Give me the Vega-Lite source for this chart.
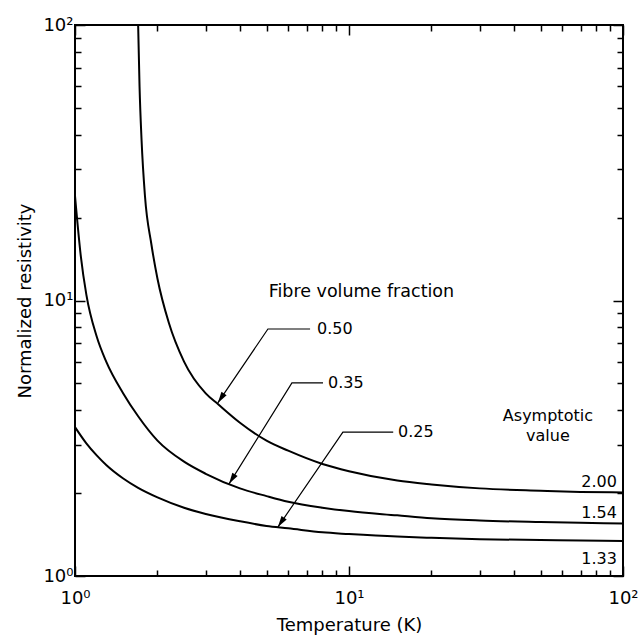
{
  "$schema": "https://vega.github.io/schema/vega-lite/v6.json",
  "width": 548,
  "height": 551,
  "autosize": {"type": "none"},
  "padding": {"left": 75, "top": 25, "right": 17, "bottom": 64},
  "background": "white",
  "config": {
    "view": {"stroke": "black", "strokeWidth": 2},
    "font": "DejaVu Sans",
    "axis": {
      "domain": false,
      "grid": false,
      "tickColor": "black",
      "tickWidth": 1.5,
      "labelFont": "DejaVu Sans",
      "labelFontSize": 18,
      "labelColor": "black",
      "labelFlush": false,
      "labelOverlap": false,
      "titleFont": "DejaVu Sans",
      "titleFontSize": 18,
      "titleFontWeight": "normal",
      "titleColor": "black"
    }
  },
  "datasets": {
    "curves": [
      {"f": "0.50", "T": 1.70, "rho": 100},
      {"f": "0.50", "T": 1.72, "rho": 60},
      {"f": "0.50", "T": 1.75, "rho": 38},
      {"f": "0.50", "T": 1.8, "rho": 24},
      {"f": "0.50", "T": 1.9, "rho": 16},
      {"f": "0.50", "T": 2.0, "rho": 12},
      {"f": "0.50", "T": 2.2, "rho": 8.3},
      {"f": "0.50", "T": 2.5, "rho": 6.0},
      {"f": "0.50", "T": 3.0, "rho": 4.6},
      {"f": "0.50", "T": 3.33, "rho": 4.2},
      {"f": "0.50", "T": 4, "rho": 3.6},
      {"f": "0.50", "T": 5, "rho": 3.1},
      {"f": "0.50", "T": 6, "rho": 2.85},
      {"f": "0.50", "T": 8, "rho": 2.55},
      {"f": "0.50", "T": 10, "rho": 2.4},
      {"f": "0.50", "T": 15, "rho": 2.22},
      {"f": "0.50", "T": 20, "rho": 2.15},
      {"f": "0.50", "T": 30, "rho": 2.08},
      {"f": "0.50", "T": 50, "rho": 2.04},
      {"f": "0.50", "T": 70, "rho": 2.02},
      {"f": "0.50", "T": 100, "rho": 2.01},
      {"f": "0.35", "T": 1, "rho": 24},
      {"f": "0.35", "T": 1.05, "rho": 14.5},
      {"f": "0.35", "T": 1.1, "rho": 10.5},
      {"f": "0.35", "T": 1.2, "rho": 7.4},
      {"f": "0.35", "T": 1.3, "rho": 6.0},
      {"f": "0.35", "T": 1.5, "rho": 4.6},
      {"f": "0.35", "T": 1.7, "rho": 3.8},
      {"f": "0.35", "T": 2, "rho": 3.1},
      {"f": "0.35", "T": 2.5, "rho": 2.6},
      {"f": "0.35", "T": 3, "rho": 2.35},
      {"f": "0.35", "T": 4, "rho": 2.08},
      {"f": "0.35", "T": 5, "rho": 1.95},
      {"f": "0.35", "T": 6, "rho": 1.86},
      {"f": "0.35", "T": 8, "rho": 1.77},
      {"f": "0.35", "T": 10, "rho": 1.72},
      {"f": "0.35", "T": 15, "rho": 1.66},
      {"f": "0.35", "T": 20, "rho": 1.62},
      {"f": "0.35", "T": 30, "rho": 1.59},
      {"f": "0.35", "T": 50, "rho": 1.57},
      {"f": "0.35", "T": 70, "rho": 1.56},
      {"f": "0.35", "T": 100, "rho": 1.55},
      {"f": "0.25", "T": 1, "rho": 3.47},
      {"f": "0.25", "T": 1.1, "rho": 3.03},
      {"f": "0.25", "T": 1.2, "rho": 2.74},
      {"f": "0.25", "T": 1.3, "rho": 2.53},
      {"f": "0.25", "T": 1.5, "rho": 2.26},
      {"f": "0.25", "T": 1.7, "rho": 2.09},
      {"f": "0.25", "T": 2, "rho": 1.93},
      {"f": "0.25", "T": 2.5, "rho": 1.77},
      {"f": "0.25", "T": 3, "rho": 1.68},
      {"f": "0.25", "T": 4, "rho": 1.58},
      {"f": "0.25", "T": 5, "rho": 1.52},
      {"f": "0.25", "T": 6, "rho": 1.49},
      {"f": "0.25", "T": 8, "rho": 1.44},
      {"f": "0.25", "T": 10, "rho": 1.42},
      {"f": "0.25", "T": 15, "rho": 1.39},
      {"f": "0.25", "T": 20, "rho": 1.376},
      {"f": "0.25", "T": 30, "rho": 1.36},
      {"f": "0.25", "T": 50, "rho": 1.35},
      {"f": "0.25", "T": 70, "rho": 1.345},
      {"f": "0.25", "T": 100, "rho": 1.34}
    ],
    "leaders": [
      {"id": "0.50", "o": 1, "T": 3.32, "rho": 4.25},
      {"id": "0.50", "o": 2, "T": 5.06, "rho": 7.88},
      {"id": "0.50", "o": 3, "T": 7.21, "rho": 7.88},
      {"id": "0.35", "o": 1, "T": 3.65, "rho": 2.16},
      {"id": "0.35", "o": 2, "T": 6.19, "rho": 5.02},
      {"id": "0.35", "o": 3, "T": 8.04, "rho": 5.02},
      {"id": "0.25", "o": 1, "T": 5.5, "rho": 1.505},
      {"id": "0.25", "o": 2, "T": 9.5, "rho": 3.33},
      {"id": "0.25", "o": 3, "T": 14.5, "rho": 3.33}
    ]
  },
  "layer": [
    {
      "data": {"name": "curves"},
      "mark": {"type": "line", "color": "black", "strokeWidth": 2, "interpolate": "monotone", "clip": true},
      "encoding": {
        "x": {
          "field": "T", "type": "quantitative",
          "scale": {"type": "log", "domain": [1, 100]},
          "axis": {
            "orient": "bottom",
            "values": [1,2,3,4,5,6,7,8,9,10,20,30,40,50,60,70,80,90,100],
            "labelExpr": "datum.value == 1 ? '10⁰' : datum.value == 10 ? '10¹' : datum.value == 100 ? '10²' : ''",
            "tickSize": {"condition": {"test": "datum.value == 1 || datum.value == 10 || datum.value == 100", "value": -10}, "value": -6},
            "labelPadding": 23,
            "title": "Temperature (K)",
            "titlePadding": 5
          }
        },
        "y": {
          "field": "rho", "type": "quantitative",
          "scale": {"type": "log", "domain": [1, 100]},
          "axis": {
            "orient": "left",
            "values": [1,2,3,4,5,6,7,8,9,10,20,30,40,50,60,70,80,90,100],
            "labelExpr": "datum.value == 1 ? '10⁰' : datum.value == 10 ? '10¹' : datum.value == 100 ? '10²' : ''",
            "tickSize": {"condition": {"test": "datum.value == 1 || datum.value == 10 || datum.value == 100", "value": -10}, "value": -6},
            "labelPadding": 12,
            "title": "Normalized resistivity",
            "titlePadding": 8
          }
        },
        "detail": {"field": "f"}
      }
    },
    {
      "data": {"name": "leaders"},
      "mark": {"type": "line", "color": "black", "strokeWidth": 1.2},
      "encoding": {
        "x": {
          "field": "T", "type": "quantitative",
          "scale": {"type": "log", "domain": [1, 100]},
          "axis": {
            "orient": "top",
            "values": [1,2,3,4,5,6,7,8,9,10,20,30,40,50,60,70,80,90,100],
            "labels": false,
            "tickSize": {"condition": {"test": "datum.value == 1 || datum.value == 10 || datum.value == 100", "value": -10}, "value": -6},
            "title": null
          }
        },
        "y": {
          "field": "rho", "type": "quantitative",
          "scale": {"type": "log", "domain": [1, 100]},
          "axis": {
            "orient": "right",
            "values": [1,2,3,4,5,6,7,8,9,10,20,30,40,50,60,70,80,90,100],
            "labels": false,
            "tickSize": {"condition": {"test": "datum.value == 1 || datum.value == 10 || datum.value == 100", "value": -10}, "value": -6},
            "title": null
          }
        },
        "detail": {"field": "id"},
        "order": {"field": "o"}
      }
    },
    {
      "data": {"values": [{"T": 3.32, "rho": 4.25}]},
      "mark": {"type": "point", "shape": "M0,0 L-0.28,-1 L0.28,-1 Z", "filled": true, "color": "black", "opacity": 1, "size": 500, "angle": 34},
      "encoding": {
        "x": {"field": "T", "type": "quantitative", "scale": {"type": "log", "domain": [1, 100]}, "axis": null},
        "y": {"field": "rho", "type": "quantitative", "scale": {"type": "log", "domain": [1, 100]}, "axis": null}
      }
    },
    {
      "data": {"values": [{"T": 3.65, "rho": 2.16}]},
      "mark": {"type": "point", "shape": "M0,0 L-0.28,-1 L0.28,-1 Z", "filled": true, "color": "black", "opacity": 1, "size": 500, "angle": 32},
      "encoding": {
        "x": {"field": "T", "type": "quantitative", "scale": {"type": "log", "domain": [1, 100]}, "axis": null},
        "y": {"field": "rho", "type": "quantitative", "scale": {"type": "log", "domain": [1, 100]}, "axis": null}
      }
    },
    {
      "data": {"values": [{"T": 5.5, "rho": 1.505}]},
      "mark": {"type": "point", "shape": "M0,0 L-0.28,-1 L0.28,-1 Z", "filled": true, "color": "black", "opacity": 1, "size": 500, "angle": 34},
      "encoding": {
        "x": {"field": "T", "type": "quantitative", "scale": {"type": "log", "domain": [1, 100]}, "axis": null},
        "y": {"field": "rho", "type": "quantitative", "scale": {"type": "log", "domain": [1, 100]}, "axis": null}
      }
    },
    {
      "data": {"values": [
        {"T": 11.1, "rho": 10.7, "text": "Fibre volume fraction"}
      ]},
      "mark": {"type": "text", "align": "center", "baseline": "middle", "fontSize": 17.5, "font": "DejaVu Sans", "color": "black"},
      "encoding": {
        "x": {"field": "T", "type": "quantitative", "scale": {"type": "log", "domain": [1, 100]}, "axis": null},
        "y": {"field": "rho", "type": "quantitative", "scale": {"type": "log", "domain": [1, 100]}, "axis": null},
        "text": {"field": "text"}
      }
    },
    {
      "data": {"values": [
        {"T": 53.2, "rho": 3.81, "text": "Asymptotic"},
        {"T": 53.2, "rho": 3.22, "text": "value"}
      ]},
      "mark": {"type": "text", "align": "center", "baseline": "middle", "fontSize": 16, "font": "DejaVu Sans", "color": "black"},
      "encoding": {
        "x": {"field": "T", "type": "quantitative", "scale": {"type": "log", "domain": [1, 100]}, "axis": null},
        "y": {"field": "rho", "type": "quantitative", "scale": {"type": "log", "domain": [1, 100]}, "axis": null},
        "text": {"field": "text"}
      }
    },
    {
      "data": {"values": [
        {"T": 7.64, "rho": 7.88, "text": "0.50"},
        {"T": 8.38, "rho": 5.02, "text": "0.35"},
        {"T": 15.1, "rho": 3.33, "text": "0.25"}
      ]},
      "mark": {"type": "text", "align": "left", "baseline": "middle", "fontSize": 16, "font": "DejaVu Sans", "color": "black"},
      "encoding": {
        "x": {"field": "T", "type": "quantitative", "scale": {"type": "log", "domain": [1, 100]}, "axis": null},
        "y": {"field": "rho", "type": "quantitative", "scale": {"type": "log", "domain": [1, 100]}, "axis": null},
        "text": {"field": "text"}
      }
    },
    {
      "data": {"values": [
        {"T": 95, "rho": 2.0, "text": "2.00"},
        {"T": 95, "rho": 1.538, "text": "1.54"}
      ]},
      "mark": {"type": "text", "align": "right", "baseline": "bottom", "dy": -3, "fontSize": 16, "font": "DejaVu Sans", "color": "black"},
      "encoding": {
        "x": {"field": "T", "type": "quantitative", "scale": {"type": "log", "domain": [1, 100]}, "axis": null},
        "y": {"field": "rho", "type": "quantitative", "scale": {"type": "log", "domain": [1, 100]}, "axis": null},
        "text": {"field": "text"}
      }
    },
    {
      "data": {"values": [
        {"T": 95, "rho": 1.333, "text": "1.33"}
      ]},
      "mark": {"type": "text", "align": "right", "baseline": "top", "dy": 9, "fontSize": 16, "font": "DejaVu Sans", "color": "black"},
      "encoding": {
        "x": {"field": "T", "type": "quantitative", "scale": {"type": "log", "domain": [1, 100]}, "axis": null},
        "y": {"field": "rho", "type": "quantitative", "scale": {"type": "log", "domain": [1, 100]}, "axis": null},
        "text": {"field": "text"}
      }
    }
  ],
  "resolve": {"axis": {"x": "independent", "y": "independent"}}
}
